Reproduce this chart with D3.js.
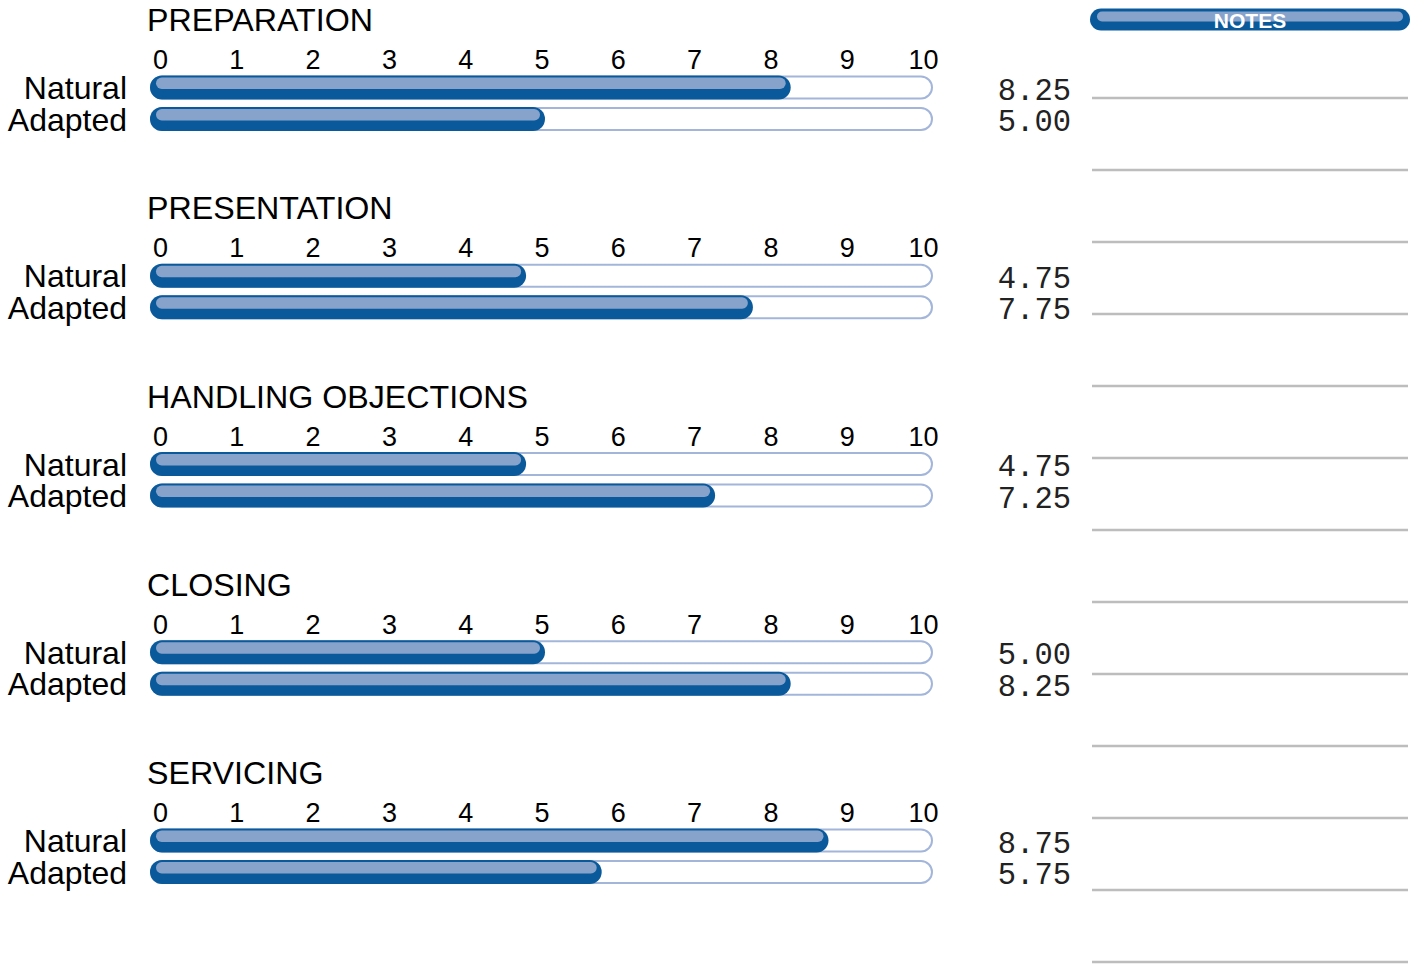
<!DOCTYPE html>
<html lang="en">
<head>
  <meta charset="UTF-8">
  <title>Selling Skills Profile</title>
  <script src="https://d3js.org/d3.v7.min.js"></script>
  <style>
    body { margin: 0; background: #fff; }
    svg { display: block; }
    .title { font-family: "Liberation Sans", Arial, sans-serif; font-size: 32.2px; fill: #000; }
    .style-label { font-family: "Liberation Sans", Arial, sans-serif; font-size: 32px; fill: #000; }
    .tick text { font-family: "Liberation Sans", Arial, sans-serif; font-size: 27px; fill: #000; }
    .value { font-family: "Liberation Mono", "DejaVu Sans Mono", monospace; font-size: 30.5px; fill: #222; }
    .note-line { stroke: #bdbdbd; stroke-width: 2.5; }
  </style>
</head>
<body>
  <svg width="1420" height="964"></svg>

  <script>
    // data
    const sections = ["PREPARATION", "PRESENTATION", "HANDLING OBJECTIONS", "CLOSING", "SERVICING"];
    const styles = ["Natural", "Adapted"];
    const naturalScores = [8.25, 4.75, 4.75, 5.00, 8.75];
    const adaptedScores = [5.00, 7.75, 7.25, 8.25, 5.75];
    const tickValues = [0, 1, 2, 3, 4, 5, 6, 7, 8, 9, 10];
    const noteCount = 13;

    const dark = "#0a5a9b", light = "#87a3cc", track = "#a3b6da";

    const svg = d3.select("svg");

    const x = d3.scaleLinear().domain([0, 10]).range([160, 923]);      // tick labels
    const barEnd = d3.scaleLinear().domain([0, 10]).range([167, 923]); // bar right edge
    const barLeft = 150, trackRight = 933;
    const barH = 24;

    const sectionY = d3.scaleLinear().domain([0, 1]).range([0, 188.25]);
    const rowY = d3.scaleOrdinal().domain(styles).range([75.5, 107]);

    const data = sections.map((s, i) => ({
      name: s,
      scores: [naturalScores[i], adaptedScores[i]]
    }));

    const g = svg.selectAll(".section")
      .data(data)
      .enter().append("g")
      .attr("class", "section")
      .attr("transform", (d, i) => `translate(0,${sectionY(i)})`);

    g.append("text")
      .attr("class", "title")
      .attr("x", 147)
      .attr("y", 31)
      .text(d => d.name);

    // numeric axis above the bars
    g.append("g")
      .attr("transform", "translate(0,69)")
      .call(d3.axisTop(x).tickValues(tickValues).tickSize(0).tickPadding(0).tickFormat(d3.format("d")))
      .call(a => a.select(".domain").remove())
      .call(a => a.selectAll("text").attr("dy", 0));

    const rows = g.selectAll(".row")
      .data(d => d.scores.map((v, j) => ({ style: styles[j], value: v })))
      .enter().append("g")
      .attr("class", "row")
      .attr("transform", d => `translate(0,${rowY(d.style)})`);

    // empty track
    rows.append("rect")
      .attr("x", barLeft + 1)
      .attr("y", 1)
      .attr("width", trackRight - barLeft - 2)
      .attr("height", barH - 2)
      .attr("rx", (barH - 2) / 2)
      .attr("fill", "#fff")
      .attr("stroke", track)
      .attr("stroke-width", 2);

    // dark bar
    rows.append("rect")
      .attr("x", barLeft)
      .attr("y", 0)
      .attr("width", d => barEnd(d.value) - barLeft)
      .attr("height", barH)
      .attr("rx", barH / 2)
      .attr("fill", dark);

    // light highlight
    rows.append("rect")
      .attr("x", barLeft + 6)
      .attr("y", 2)
      .attr("width", d => barEnd(d.value) - barLeft - 11)
      .attr("height", 11.5)
      .attr("rx", 5.75)
      .attr("fill", light);

    rows.append("text")
      .attr("class", "style-label")
      .attr("x", 127)
      .attr("y", 23.5)
      .attr("text-anchor", "end")
      .text(d => d.style);

    rows.append("text")
      .attr("class", "value")
      .attr("x", 1071)
      .attr("y", 24)
      .attr("text-anchor", "end")
      .text(d => d3.format(".2f")(d.value));

    // notes column
    const notes = svg.append("g");
    notes.append("rect")
      .attr("x", 1090).attr("y", 8.5)
      .attr("width", 320).attr("height", 22).attr("rx", 11)
      .attr("fill", dark);
    notes.append("rect")
      .attr("x", 1097).attr("y", 11.5)
      .attr("width", 306).attr("height", 10).attr("rx", 5)
      .attr("fill", light);
    notes.append("text")
      .attr("x", 1250).attr("y", 27.5)
      .attr("text-anchor", "middle")
      .style("font-family", "'Liberation Sans', Arial, sans-serif")
      .style("font-weight", "bold")
      .style("font-size", "21px")
      .style("fill", "#fff")
      .text("NOTES");

    const noteY = d3.scaleLinear().domain([0, 1]).range([98, 170]);
    notes.selectAll(".note-line")
      .data(d3.range(noteCount))
      .enter().append("line")
      .attr("class", "note-line")
      .attr("x1", 1092).attr("x2", 1408)
      .attr("y1", d => noteY(d)).attr("y2", d => noteY(d));
  </script>
</body>
</html>
